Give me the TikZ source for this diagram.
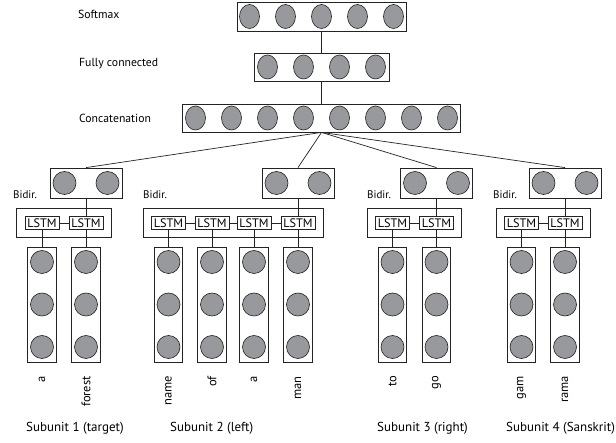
\documentclass[tikz,border=0pt]{standalone}
\usepackage{fontspec}
\setmainfont{PT Sans}
\usetikzlibrary{shapes.geometric,fit}
\definecolor{neur}{RGB}{152,153,157}
\definecolor{edge}{RGB}{35,35,35}
\begin{document}
\begin{tikzpicture}[x=1pt,y=-1pt,
  box/.style={draw=edge,line width=0.8pt,inner sep=0pt},
  el/.style={ellipse,draw=edge,fill=neur,line width=0.6pt,minimum width=20pt,minimum height=24pt,inner sep=0pt},
  ci/.style={circle,draw=edge,fill=neur,line width=0.6pt,minimum size=23pt,inner sep=0pt},
  conn/.style={draw=edge,line width=0.7pt},
  lbl/.style={anchor=west,inner sep=0pt,font=\fontsize{11.7}{13}\selectfont},
  bid/.style={anchor=west,inner sep=0pt,font=\fontsize{11}{12}\selectfont},
  lstm/.style={draw=edge,line width=0.7pt,minimum width=34pt,minimum height=13pt,inner sep=0pt,font=\fontsize{12.3}{12}\selectfont},
  word/.style={rotate=90,anchor=east,inner sep=0pt,font=\fontsize{12.5}{13}\selectfont},
  sub/.style={anchor=west,inner sep=0pt,font=\fontsize{13}{15}\selectfont}]
\useasboundingbox (0,0) rectangle (616,443);

% top layers
\node[box,minimum width=169pt,minimum height=29pt] (sm) at (321.5,16.5) {};
\foreach \i [count=\k] in {0,...,4} \node[el] (sm\k) at (249.5+36*\i,16.5) {};
\node[box,minimum width=135pt,minimum height=28pt] (fc) at (321.5,67) {};
\foreach \i [count=\k] in {0,...,3} \node[el] (fc\k) at (267.5+36*\i,67) {};
\node[box,minimum width=278pt,minimum height=28pt] (cc) at (321.5,118) {};
\foreach \i [count=\k] in {0,...,7} \node[el] (cc\k) at (195.5+36*\i,118) {};
\draw[conn] (sm) -- (fc);
\draw[conn] (fc) -- (cc);

\node[lbl] (tsm) at (78,14) {Softmax};
\node[lbl] (tfc) at (79,64) {Fully connected};
\node[lbl] (tcc) at (79,118) {Concatenation};

% columns and LSTMs
\foreach \n/\x in {1a/42,1b/86,2a/168.5,2b/212,2c/254,2d/298,3a/392.5,3b/436.5,4a/521.5,4b/565} {
  \node[box,minimum width=28.5pt,minimum height=115pt] (col\n) at (\x,304.5) {};
  \node[ci] (c\n x) at (\x,262) {};
  \node[ci] (c\n y) at (\x,304.5) {};
  \node[ci] (c\n z) at (\x,347) {};
  \node[lstm] (l\n) at (\x,223) {LSTM};
  \draw[conn] (l\n) -- (col\n);
}
\draw[conn] (l1a) -- (l1b);
\draw[conn] (l2a) -- (l2b) -- (l2c) -- (l2d);
\draw[conn] (l3a) -- (l3b);
\draw[conn] (l4a) -- (l4b);
\node[box,fit=(l1a)(l1b),inner xsep=8pt,inner ysep=8pt] (o1) {};
\node[box,fit=(l2a)(l2d),inner xsep=8pt,inner ysep=8pt] (o2) {};
\node[box,fit=(l3a)(l3b),inner xsep=8pt,inner ysep=8pt] (o3) {};
\node[box,fit=(l4a)(l4b),inner xsep=8pt,inner ysep=8pt] (o4) {};

% bidirectional outputs
\foreach \n/\x/\t in {1/86/1b,2/298/2d,3/436.5/3b,4/565/4b} {
  \node[box,minimum width=72pt,minimum height=30pt] (b\n) at (\x,183) {};
  \node[ci] (b\n l) at (\x-21.5,183) {};
  \node[ci] (b\n r) at (\x+21.5,183) {};
  \draw[conn] (b\n) -- (l\t);
  \draw[conn] (cc.south) -- (b\n.north);
}
\node[bid] (bd1) at (13,195) {Bidir.};
\node[bid] (bd2) at (143,195) {Bidir.};
\node[bid] (bd3) at (367,195) {Bidir.};
\node[bid] (bd4) at (493,195) {Bidir.};

% words
\node[word] (w1a) at (42,376) {a};
\node[word] (w1b) at (86,376) {forest};
\node[word] (w2a) at (168.5,376) {name};
\node[word] (w2b) at (212,376) {of};
\node[word] (w2c) at (254,376) {a};
\node[word] (w2d) at (298,376) {man};
\node[word] (w3a) at (392.5,376) {to};
\node[word] (w3b) at (436.5,376) {go};
\node[word] (w4a) at (521.5,376) {gam};
\node[word] (w4b) at (565,376) {rama};

% subunit labels
\node[sub] (s1) at (26,428) {Subunit 1 (target)};
\node[sub] (s2) at (170,428) {Subunit 2 (left)};
\node[sub] (s3) at (377,428) {Subunit 3 (right)};
\node[sub] (s4) at (506,428) {Subunit 4 (Sanskrit)};
\end{tikzpicture}
\end{document}
